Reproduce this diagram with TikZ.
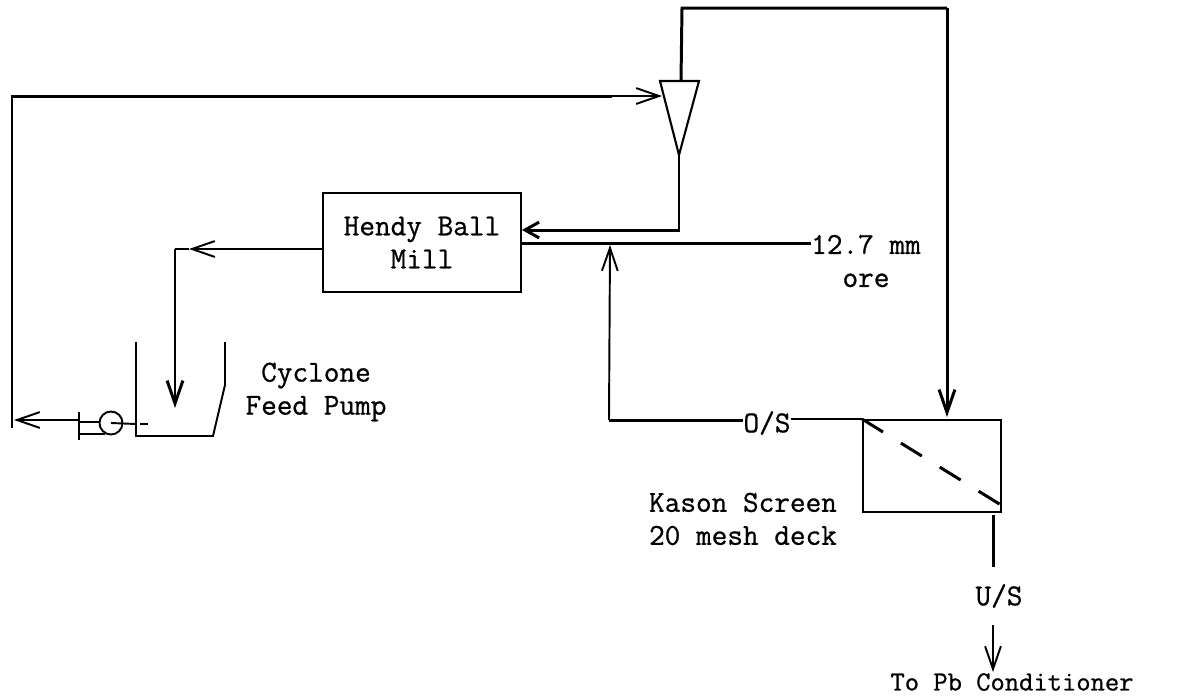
\documentclass[tikz,border=0pt]{standalone}
\usepackage{fontspec}
\newfontfamily\typefont{Latin Modern Mono}[FakeBold=0.8]
\usetikzlibrary{arrows.meta}
\tikzset{
	flowline/.style={line width=1.1pt},
	heavyline/.style={line width=1.7pt},
	textlab/.style={font=\fontsize{17.3}{18.8}\selectfont\typefont, align=center, inner sep=0pt},
	unitbox/.style={draw, line width=1.1pt, inner sep=0pt},
	smalltip/.style={>={Straight Barb[length=8pt, width=9pt]}},
}
\begin{document}
\begin{tikzpicture}[x=0.02cm, y=-0.02cm, >={Straight Barb[length=13pt, width=9pt]}]
	\useasboundingbox (0,0) rectangle (1181,698);

	% BALL MILL
	\node[unitbox, textlab, minimum width=3.96cm, minimum height=1.98cm] (mill) at (422,242.5) {Hendy Ball\\Mill};
	\coordinate (millin) at (522,230);
	\coordinate (millfeed) at (521,243);

	% CYCLONE
	\coordinate (cycleft) at (660,81);
	\coordinate (cycright) at (699,81);
	\coordinate (cyctip) at (679,155);
	\coordinate (cycin) at (662,96);
	\coordinate (cycout) at (681,81);
	\draw[line width=1.2pt] (cycleft) -- (cycright) -- (cyctip) -- cycle;

	% KASON SCREEN
	\node[unitbox, minimum width=2.76cm, minimum height=1.84cm] (screen) at (932,466) {};
	\draw[heavyline, dash pattern=on 14pt off 12pt] (screen.north west) -- (1001,505);
	\node[textlab] (screenlab) at (743,519) {Kason Screen\\20 mesh deck};

	% TANK AND PUMP
	\coordinate (tanktl) at (136,342);
	\coordinate (tankbl) at (136,436);
	\coordinate (tankbr) at (213,436);
	\coordinate (tankk) at (225,385);
	\coordinate (tanktr) at (225,342);
	\coordinate (tankdash) at (140,424);
	\coordinate (tankdashend) at (148,424);
	\draw[line width=1.1pt] (tanktl) -- (tankbl) -- (tankbr) -- (tankk) -- (tanktr);
	\node[draw, circle, line width=1.1pt, minimum size=0.46cm, inner sep=0pt] (pump) at (111,423) {};
	\coordinate (pumpbar) at (79,420);
	\coordinate (pumpup) at (100,422);
	\coordinate (pumplow) at (105,434);
	\draw[line width=1.1pt] (79,412) -- (79,440);
	\draw[line width=1.1pt] (pumpbar |- pumpup) -- (pumpup);
	\draw[line width=1.1pt] (pumpbar |- pumplow) -- (pumplow);
	\draw[line width=1.1pt] (pump.center) -- (tanktl |- tankdash);
	\draw[line width=1.1pt] (tankdash) -- (tankdashend);
	\node[textlab] (pumplab) at (316,392) {Cyclone\\Feed Pump};

	% Circuit load from pump to cyclone
	\coordinate (leftbot) at (12,428);
	\coordinate (lefttop) at (12,96);
	\coordinate (leftthin) at (612,96);
	\coordinate (leftend) at (14,420);
	\draw[heavyline] (leftbot) -- (lefttop) -- (leftthin);
	\draw[flowline, ->] (leftthin) -- (cycin);
	\draw[flowline, ->] (pumpbar) -- (leftend);

	% Cyclone overflow to screen
	\coordinate (overleft) at (682,8);
	\coordinate (overright) at (947,8);
	\coordinate (screenin) at (947,417);
	\draw[heavyline] (cycout) -- (overleft) -- (overright);
	\draw[heavyline, ->] (overright) -- (screenin);

	% Cyclone underflow to mill
	\coordinate (underturn) at (679,230);
	\draw[heavyline, smalltip, ->] (cyctip) -- (underturn) -- (millin);

	% New ore feed
	\node[textlab] (orelab) at (866,261) {12.7 mm\\ore};
	\draw[heavyline] (millfeed) -- (orelab.north west |- millfeed);

	% Mill discharge to tank
	\coordinate (millturn) at (175,249);
	\coordinate (milltip) at (189,249);
	\coordinate (tankin) at (175,408);
	\draw[flowline, ->] (mill.west |- milltip) -- (milltip);
	\draw[flowline] (milltip) -- (millturn);
	\draw[heavyline, ->] (millturn) -- (tankin);

	% Screen oversize back to mill
	\node[textlab] (oversize) at (767,423) {O/S};
	\coordinate (overturn) at (609,420);
	\coordinate (overend) at (610,245);
	\draw[heavyline] (oversize.west |- overturn) -- (overturn);
	\draw[flowline, ->] (overturn) -- (overend);
	\draw[flowline] (oversize.east |- screen.north) -- (screen.north west);

	% Screen undersize
	\node[textlab] (undersize) at (999,596) {U/S};
	\node[textlab, font=\fontsize{15.8}{18.8}\selectfont\typefont] (conditioner) at (1012,682) {To Pb Conditioner};
	\coordinate (underin) at (993,515);
	\coordinate (underoff) at (993,567);
	\coordinate (underon) at (993,625);
	\coordinate (underend) at (993,672);
	\draw[heavyline] (underin) -- (underoff);
	\draw[flowline, ->] (underon) -- (underend);
\end{tikzpicture}
\end{document}
